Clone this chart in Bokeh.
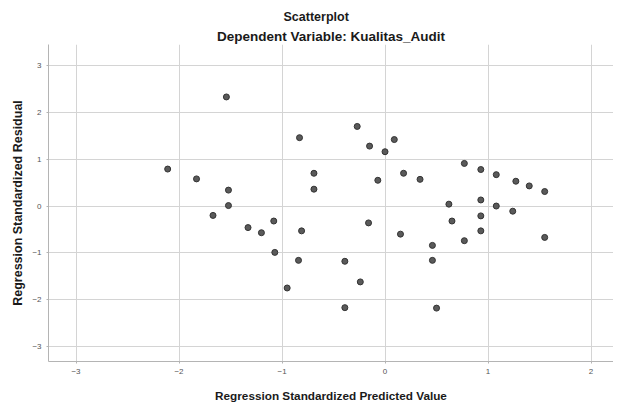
from bokeh.plotting import figure
from bokeh.models import Title, Range1d, FixedTicker, ColumnDataSource
from bokeh.embed import file_html
from bokeh.resources import INLINE

# Regression standardized predicted values (x) and residuals (y)
pred = [-2.11, -1.83, -1.54, -1.52, -1.52, -1.67, -1.33, -1.20, -1.08, -1.07,
        -0.95, -0.84, -0.81, -0.83, -0.69, -0.69, -0.39, -0.39, -0.24, -0.27,
        -0.15, -0.07, -0.16, 0.09, 0.00, 0.18, 0.34, 0.15, 0.77, 0.93,
        1.08, 1.27, 1.40, 1.55, 0.93, 0.62, 1.08, 1.24, 0.93, 0.65,
        0.93, 0.77, 1.55, 0.46, 0.46, 0.50]
resid = [0.79, 0.58, 2.33, 0.34, 0.01, -0.20, -0.46, -0.57, -0.32, -0.99,
         -1.75, -1.16, -0.53, 1.46, 0.70, 0.36, -1.18, -2.17, -1.62, 1.70,
         1.28, 0.55, -0.36, 1.42, 1.16, 0.70, 0.57, -0.60, 0.91, 0.78,
         0.67, 0.53, 0.43, 0.31, 0.13, 0.04, 0.00, -0.11, -0.21, -0.32,
         -0.53, -0.74, -0.67, -0.84, -1.16, -2.18]

x_ticks = [-3, -2, -1, 0, 1, 2]
y_ticks = [-3, -2, -1, 0, 1, 2, 3]

title_text = "Scatterplot"
subtitle_text = "Dependent Variable: Kualitas_Audit"
x_label = "Regression Standardized Predicted Value"
y_label = "Regression Standardized Residual"

FONT = "Liberation Sans"

p = figure(width=613, height=404, output_backend="svg", toolbar_location=None,
           x_range=Range1d(-3.267, 2.218), y_range=Range1d(-3.32, 3.45),
           min_border_left=48, min_border_right=0, min_border_top=44,
           min_border_bottom=42)

p.add_layout(Title(text=subtitle_text, align="center", text_font=FONT,
                   text_font_size="13.5px", text_font_style="bold",
                   text_color="#1a1a1a", standoff=1), "above")
p.add_layout(Title(text=title_text, align="left", offset=235, text_font=FONT,
                   text_font_size="12.5px", text_font_style="bold",
                   text_color="#1a1a1a", standoff=6), "above")

src = ColumnDataSource(dict(x=pred, y=resid))
p.scatter("x", "y", source=src, size=6, fill_color="#5a5a5a",
          line_color="#333333", line_width=1)

p.outline_line_color = None
p.background_fill_color = "white"
p.border_fill_color = "white"

for ax in (p.xaxis[0], p.yaxis[0]):
    ax.axis_line_color = "#b4b4b4"
    ax.major_tick_line_color = "#b4b4b4"
    ax.major_tick_out = 2
    ax.major_tick_in = 0
    ax.minor_tick_line_color = None
    ax.major_label_text_font = FONT
    ax.major_label_text_font_size = "8px"
    ax.major_label_text_color = "#555555"
    ax.major_label_standoff = 5
    ax.axis_label_text_font = FONT
    ax.axis_label_text_font_style = "bold"
    ax.axis_label_text_color = "#1a1a1a"

p.xaxis[0].axis_label_text_font_size = "11.75px"
p.yaxis[0].axis_label_text_font_size = "12.5px"
p.xaxis[0].ticker = FixedTicker(ticks=x_ticks)
p.yaxis[0].ticker = FixedTicker(ticks=y_ticks)
p.xaxis[0].axis_label = x_label
p.yaxis[0].axis_label = y_label
p.xaxis[0].axis_label_standoff = 12
p.yaxis[0].axis_label_standoff = 4

p.xgrid.ticker = FixedTicker(ticks=x_ticks)
p.ygrid.ticker = FixedTicker(ticks=y_ticks)
p.grid.grid_line_color = "#d4d4d4"
p.grid.grid_line_width = 1

open("out.html", "w").write(file_html(p, INLINE))
